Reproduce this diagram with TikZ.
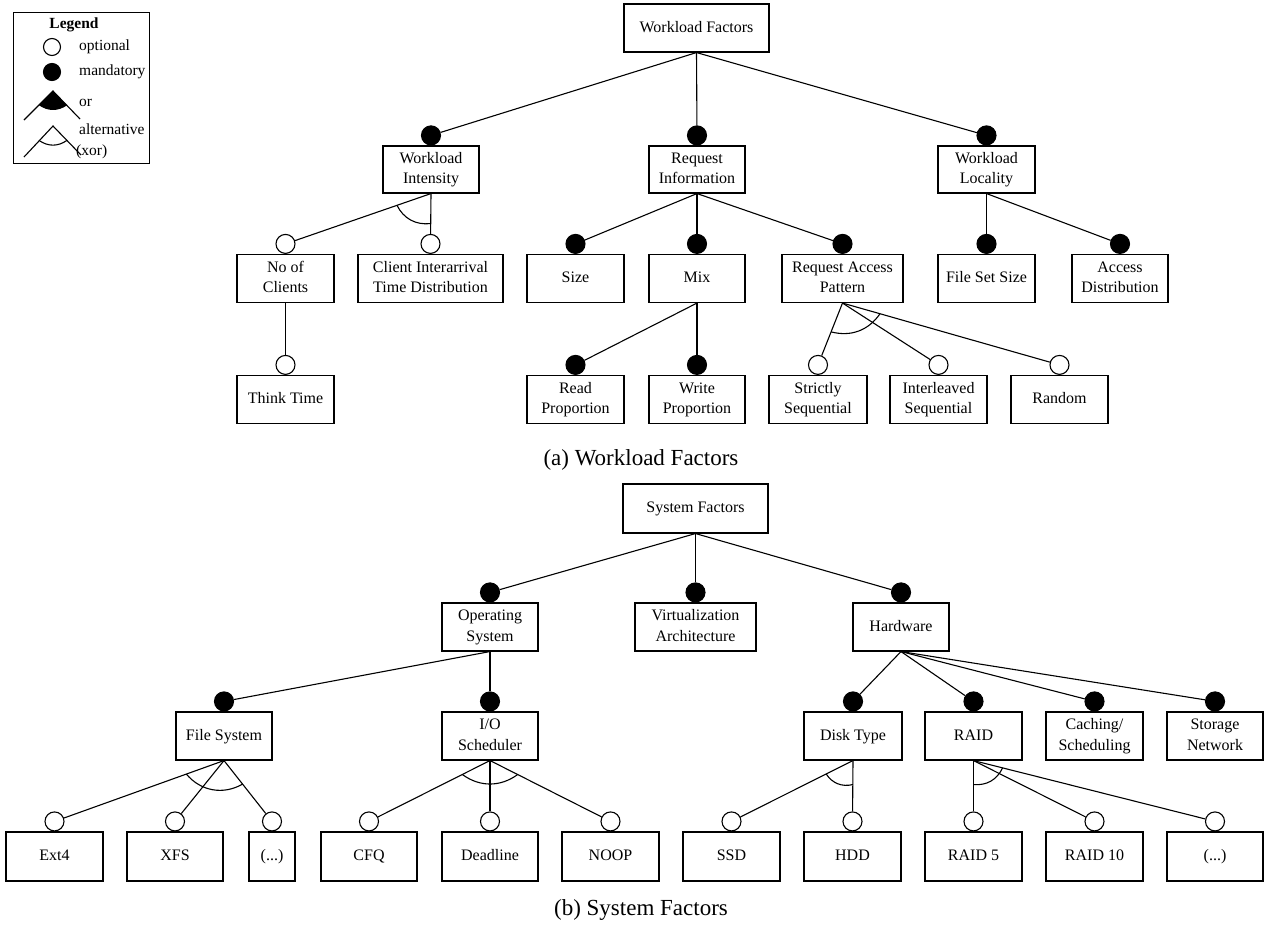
\documentclass[tikz,border=0pt]{standalone}
\usepackage{fontspec}
\setmainfont{Liberation Serif}
\usetikzlibrary{calc}
% centred block of feature text; each row carries the font's strut
\newcommand\ft[1]{\begin{tabular}{@{}c@{}}#1\end{tabular}}
\begin{document}
\begin{tikzpicture}[x=1pt,y=-1pt,
  feat/.style={draw, line width=1.1pt, minimum height=48pt, inner sep=0pt,
    font=\fontsize{16}{20.5}\selectfont},
  optc/.style={circle, draw, line width=1.1pt, fill=white, minimum size=19pt,
    inner sep=0pt, anchor=south},
  mandc/.style={optc, fill=black},
  link/.style={line width=1.1pt},
  legtext/.style={font=\fontsize{15.5}{18}\selectfont, inner sep=0pt, anchor=west},
  capt/.style={font=\fontsize{23}{28}\selectfont, inner sep=0pt}]
\useasboundingbox (0,0) rectangle (1264,930);

% ---------- legend ----------
\node[draw, line width=1.1pt, minimum width=136pt, minimum height=151pt,
  inner sep=0pt, anchor=north west] (legend) at (13,12) {};
\node[font=\fontsize{15.5}{18}\selectfont\bfseries, inner sep=0pt] (legtitle) at (74,25) {Legend};
\node[circle, draw, line width=1.1pt, minimum size=17pt, inner sep=0pt] (lgopt) at (52,47) {};
\node[legtext] (lgopttxt) at (79,47) {optional};
\node[circle, draw, line width=1.1pt, fill=black, minimum size=17pt, inner sep=0pt] (lgman) at (52,72) {};
\node[legtext] (lgmantxt) at (79,72) {mandatory};
\coordinate (orapex) at (53,91);
\coordinate (orl) at (24,120);
\coordinate (orr) at (80,119);
\fill ($(orapex)!20pt!(orl)$) to[bend right=35] ($(orapex)!20pt!(orr)$) -- (orapex) -- cycle;
\draw[link] (orl) -- (orapex) -- (orr);
\node[legtext] (lgortxt) at (79,103) {or};
\coordinate (xorapex) at (53,126);
\coordinate (xorl) at (24,157);
\coordinate (xorr) at (81,155);
\draw[link] (xorl) -- (xorapex) -- (xorr);
\draw[link] ($(xorapex)!20pt!(xorl)$) to[bend right=35] ($(xorapex)!20pt!(xorr)$);
\node[legtext] (lgxortxt) at (79,129) {alternative};
\node[legtext] (lgxortxt2) at (76,152) {(xor)};

% ---------- (a) workload factors ----------
\node[feat, minimum width=145pt] (wf) at (696.5,28) {\ft{Workload Factors}};
\node[feat, minimum width=96pt, minimum height=47pt] (wi) at (431,169.5) {\ft{Workload\\Intensity}};
\node[feat, minimum width=96pt, minimum height=47pt] (ri) at (697,169.5) {\ft{Request\\Information}};
\node[feat, minimum width=97pt, minimum height=47pt] (wl) at (986.5,169.5) {\ft{Workload\\Locality}};
\node[feat, minimum width=97pt] (noc) at (285.5,278.5) {\ft{No of\\Clients}};
\node[feat, minimum width=145pt] (cit) at (430.5,278.5) {\ft{Client Interarrival\\Time Distribution}};
\node[feat, minimum width=97pt] (size) at (575.5,278.5) {\ft{Size}};
\node[feat, minimum width=96pt] (mix) at (697,278.5) {\ft{Mix}};
\node[feat, minimum width=121pt] (rap) at (842.5,278.5) {\ft{Request Access\\Pattern}};
\node[feat, minimum width=97pt] (fss) at (986.5,278.5) {\ft{File Set Size}};
\node[feat, minimum width=96pt] (ad) at (1120,278.5) {\ft{Access\\Distribution}};
\node[feat, minimum width=97pt] (tt) at (285.5,399.5) {\ft{Think Time}};
\node[feat, minimum width=97pt] (rp) at (575.5,399.5) {\ft{Read\\Proportion}};
\node[feat, minimum width=96pt] (wp) at (697,399.5) {\ft{Write\\Proportion}};
\node[feat, minimum width=98pt] (ss) at (818,399.5) {\ft{Strictly\\Sequential}};
\node[feat, minimum width=97pt] (is) at (938.5,399.5) {\ft{Interleaved\\Sequential}};
\node[feat, minimum width=97pt] (rnd) at (1059.5,399.5) {\ft{Random}};

\node[mandc] (c-wi) at (wi.north) {};
\node[mandc] (c-ri) at (ri.north) {};
\node[mandc] (c-wl) at (wl.north) {};
\node[optc] (c-noc) at (noc.north) {};
\node[optc] (c-cit) at (cit.north) {};
\node[mandc] (c-size) at (size.north) {};
\node[mandc] (c-mix) at (mix.north) {};
\node[mandc] (c-rap) at (rap.north) {};
\node[mandc] (c-fss) at (fss.north) {};
\node[mandc] (c-ad) at (ad.north) {};
\node[optc] (c-tt) at (tt.north) {};
\node[mandc] (c-rp) at (rp.north) {};
\node[mandc] (c-wp) at (wp.north) {};
\node[optc] (c-ss) at (ss.north) {};
\node[optc] (c-is) at (is.north) {};
\node[optc] (c-rnd) at (rnd.north) {};

\foreach \p/\c in {wf/wi, wf/ri, wf/wl, wi/noc, wi/cit, noc/tt, ri/size, ri/mix,
  ri/rap, mix/rp, mix/wp, rap/ss, rap/is, rap/rnd, wl/fss, wl/ad}
  \draw[link] (\p.south) -- (c-\c);

\draw[link] ($(wi.south)!36pt!(c-noc)$) to[bend right=35] ($(wi.south)!30pt!(c-cit)$);
\draw[link] ($(rap.south)!31pt!(c-ss)$) to[bend right=35] ($(rap.south)!39pt!(c-rnd)$);

\node[capt] (capa) at (641,460) {(a) Workload Factors};

% ---------- (b) system factors ----------
\node[feat, minimum width=145pt, minimum height=49pt] (sf) at (695.5,508.5) {\ft{System Factors}};
\node[feat, minimum width=96pt] (os) at (490,627) {\ft{Operating\\System}};
\node[feat, minimum width=121pt] (va) at (695.5,627) {\ft{Virtualization\\Architecture}};
\node[feat, minimum width=96pt] (hw) at (901,627) {\ft{Hardware}};
\node[feat, minimum width=96pt] (fs) at (224,736) {\ft{File System}};
\node[feat, minimum width=96pt] (io) at (490,736) {\ft{I/O\\Scheduler}};
\node[feat, minimum width=98pt] (dt) at (853,736) {\ft{Disk Type}};
\node[feat, minimum width=97pt] (raid) at (973.5,736) {\ft{RAID}};
\node[feat, minimum width=97pt] (cs) at (1094.5,736) {\ft{Caching/\\Scheduling}};
\node[feat, minimum width=96pt] (sn) at (1215,736) {\ft{Storage\\Network}};
\node[feat, minimum width=97pt, minimum height=49pt] (ext) at (54.5,856.5) {\ft{Ext4}};
\node[feat, minimum width=96pt, minimum height=49pt] (xfs) at (175,856.5) {\ft{XFS}};
\node[feat, minimum width=46pt, minimum height=49pt] (fsmore) at (272,856.5) {\ft{(...)}};
\node[feat, minimum width=96pt, minimum height=49pt] (cfq) at (369,856.5) {\ft{CFQ}};
\node[feat, minimum width=96pt, minimum height=49pt] (dl) at (490,856.5) {\ft{Deadline}};
\node[feat, minimum width=97pt, minimum height=49pt] (noop) at (610.5,856.5) {\ft{NOOP}};
\node[feat, minimum width=97pt, minimum height=49pt] (ssd) at (731.5,856.5) {\ft{SSD}};
\node[feat, minimum width=97pt, minimum height=49pt] (hdd) at (852.5,856.5) {\ft{HDD}};
\node[feat, minimum width=97pt, minimum height=49pt] (rfive) at (973.5,856.5) {\ft{RAID 5}};
\node[feat, minimum width=97pt, minimum height=49pt] (rten) at (1094.5,856.5) {\ft{RAID 10}};
\node[feat, minimum width=96pt, minimum height=49pt] (rmore) at (1215,856.5) {\ft{(...)}};

\node[mandc] (c-os) at (os.north) {};
\node[mandc] (c-va) at (va.north) {};
\node[mandc] (c-hw) at (hw.north) {};
\node[mandc] (c-fs) at (fs.north) {};
\node[mandc] (c-io) at (io.north) {};
\node[mandc] (c-dt) at (dt.north) {};
\node[mandc] (c-raid) at (raid.north) {};
\node[mandc] (c-cs) at (cs.north) {};
\node[mandc] (c-sn) at (sn.north) {};
\node[optc] (c-ext) at (ext.north) {};
\node[optc] (c-xfs) at (xfs.north) {};
\node[optc] (c-fsmore) at (fsmore.north) {};
\node[optc] (c-cfq) at (cfq.north) {};
\node[optc] (c-dl) at (dl.north) {};
\node[optc] (c-noop) at (noop.north) {};
\node[optc] (c-ssd) at (ssd.north) {};
\node[optc] (c-hdd) at (hdd.north) {};
\node[optc] (c-rfive) at (rfive.north) {};
\node[optc] (c-rten) at (rten.north) {};
\node[optc] (c-rmore) at (rmore.north) {};

\foreach \p/\c in {sf/os, sf/va, sf/hw, os/fs, os/io, hw/dt, hw/raid, hw/cs, hw/sn,
  fs/ext, fs/xfs, fs/fsmore, io/cfq, io/dl, io/noop, dt/ssd, dt/hdd,
  raid/rfive, raid/rten, raid/rmore}
  \draw[link] (\p.south) -- (c-\c);

\draw[link] ($(fs.south)!40pt!(c-ext)$) to[bend right=40] ($(fs.south)!30pt!(c-fsmore)$);
\draw[link] ($(io.south)!31pt!(c-cfq)$) to[bend right=36] ($(io.south)!31pt!(c-noop)$);
\draw[link] ($(dt.south)!30pt!(c-ssd)$) to[bend right=35] ($(dt.south)!24pt!(c-hdd)$);
\draw[link] ($(raid.south)!24pt!(c-rfive)$) to[bend right=35] ($(raid.south)!30pt!(c-rmore)$);

\node[capt] (capb) at (641,910) {(b) System Factors};
\end{tikzpicture}
\end{document}
